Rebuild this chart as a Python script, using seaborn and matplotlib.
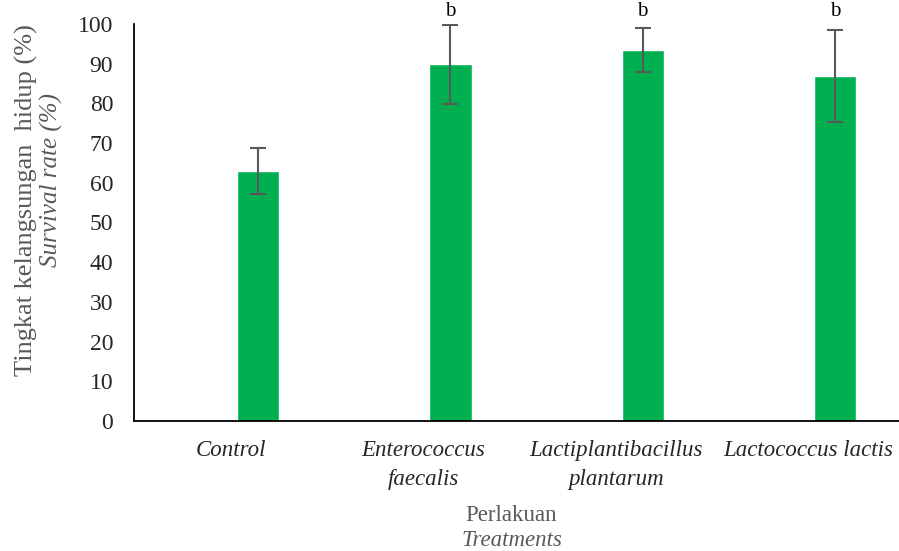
import matplotlib
matplotlib.use("Agg")
import matplotlib.pyplot as plt
import seaborn as sns
import pandas as pd

# Survival rate per treatment (mean and standard deviation, %)
treatments = ["Control", "Enterococcus\nfaecalis", "Lactiplantibacillus\nplantarum", "Lactococcus lactis"]
survival = [63.0, 89.8, 93.4, 86.8]
sd = [5.8, 10.0, 5.6, 11.6]
letters = ["", "b", "b", "b"]
y_ticks = [0, 10, 20, 30, 40, 50, 60, 70, 80, 90, 100]

df = pd.DataFrame({"treatment": treatments, "survival": survival})

sns.set_theme(style="white")
plt.rcParams["font.family"] = ["Liberation Serif", "DejaVu Serif"]

fig = plt.figure(figsize=(8.99, 5.51), dpi=100)
ax = fig.add_axes([134 / 899, 1 - 421 / 551, 1 - 134 / 899, (421 - 24) / 551])

sns.barplot(data=df, x="treatment", y="survival", color="#00B050",
            saturation=1, width=0.22, errorbar=None, ax=ax)

xs = list(range(len(treatments)))
ax.errorbar(xs, survival, yerr=sd, fmt="none", ecolor="#595959",
            elinewidth=1.5, capsize=6, capthick=1.5, zorder=3)

for x, m, s, lab in zip(xs, survival, sd, letters):
    if lab:
        ax.text(x, 102, lab, ha="center", va="baseline", fontsize=15,
                color="black", clip_on=False)

ax.set_ylim(0, 100)
ax.set_xlim(-0.645, 3.333)
ax.set_yticks(y_ticks)
ax.set_yticklabels([str(v) for v in y_ticks], fontsize=17, color="#262626")
ax.set_xticks([x - 0.14 for x in xs])
ax.set_xticklabels(treatments, fontsize=16.5, style="italic", color="#262626",
                   linespacing=1.5)
ax.tick_params(axis="y", length=0, pad=15)
ax.tick_params(axis="x", length=0, pad=13.5)
ax.set_xlabel("")
ax.set_ylabel("")

for side in ["top", "right"]:
    ax.spines[side].set_visible(False)
for side in ["left", "bottom"]:
    ax.spines[side].set_color("black")
    ax.spines[side].set_linewidth(1.3)

# Axis titles in Indonesian with English translation below
grey = "#595959"
fig.text(511 / 899, 1 - 521 / 551, "Perlakuan", ha="center", va="baseline",
         fontsize=16.5, color=grey)
fig.text(512 / 899, 1 - 546 / 551, "Treatments", ha="center", va="baseline",
         fontsize=16.5, style="italic", color=grey)
fig.text(26 / 899, 1 - 200 / 551, "Tingkat kelangsungan  hidup (%)", rotation=90,
         ha="center", va="center", fontsize=19, color=grey)
fig.text(51 / 899, 1 - 180 / 551, "Survival rate (%)", rotation=90,
         ha="center", va="center", fontsize=18, style="italic", color=grey)

fig.savefig("out.png", dpi=100)
